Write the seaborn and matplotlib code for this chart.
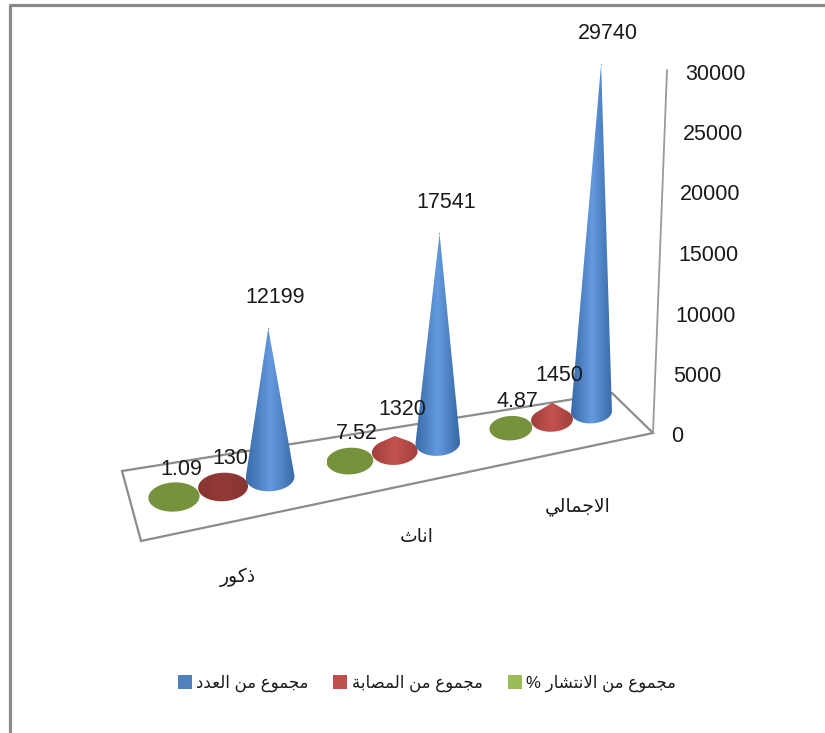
import matplotlib
matplotlib.use("Agg")
import matplotlib.pyplot as plt
import numpy as np
import pandas as pd
import seaborn as sns
from matplotlib.colors import LinearSegmentedColormap
from matplotlib.patches import PathPatch, Polygon
from matplotlib.path import Path

categories = ["ذكور", "اناث", "الاجمالي"]
series_names = ["مجموع من الانتشار %", "مجموع من المصابة", "مجموع من العدد"]
prevalence = [1.09, 7.52, 4.87]
infected = [130, 1320, 1450]
counts = [12199, 17541, 29740]
y_ticks = [0, 5000, 10000, 15000, 20000, 25000, 30000]

# presentation forms: isolated, final, initial, medial
FORMS = {
    "ا": (0xFE8D, 0xFE8E), "ب": (0xFE8F, 0xFE90, 0xFE91, 0xFE92),
    "ة": (0xFE93, 0xFE94), "ت": (0xFE95, 0xFE96, 0xFE97, 0xFE98),
    "ث": (0xFE99, 0xFE9A, 0xFE9B, 0xFE9C), "ج": (0xFE9D, 0xFE9E, 0xFE9F, 0xFEA0),
    "د": (0xFEA9, 0xFEAA), "ذ": (0xFEAB, 0xFEAC), "ر": (0xFEAD, 0xFEAE),
    "ش": (0xFEB5, 0xFEB6, 0xFEB7, 0xFEB8), "ص": (0xFEB9, 0xFEBA, 0xFEBB, 0xFEBC),
    "ع": (0xFEC9, 0xFECA, 0xFECB, 0xFECC), "ك": (0xFED9, 0xFEDA, 0xFEDB, 0xFEDC),
    "ل": (0xFEDD, 0xFEDE, 0xFEDF, 0xFEE0), "م": (0xFEE1, 0xFEE2, 0xFEE3, 0xFEE4),
    "ن": (0xFEE5, 0xFEE6, 0xFEE7, 0xFEE8), "و": (0xFEED, 0xFEEE),
    "ي": (0xFEF1, 0xFEF2, 0xFEF3, 0xFEF4),
}


def shape(text):
    # matplotlib has no arabic shaping, so join the letters and flip to visual order
    out = []
    joined = False
    i = 0
    while i < len(text):
        ch = text[i]
        if ch not in FORMS:
            out.append(ch)
            joined = False
            i += 1
            continue
        if ch == "ل" and text[i + 1 : i + 2] == "ا":
            out.append(chr(0xFEFC if joined else 0xFEFB))
            joined = False
            i += 2
            continue
        forms = FORMS[ch]
        next_letter = text[i + 1 : i + 2] in FORMS
        if len(forms) == 4 and next_letter:
            out.append(chr(forms[3] if joined else forms[2]))
            joined = True
        else:
            out.append(chr(forms[1] if joined else forms[0]))
            joined = False
        i += 1
    return "".join(reversed(out))


sns.set_theme(style="white")
plt.rcParams["font.family"] = ["Liberation Sans", "DejaVu Sans"]
TEXT = "#1a1a1a"

floor_corners = [(141, 541), (653, 433), (612, 393), (122, 471)]


def floor(u):
    # centre line of the floor, with the perspective squeeze along the categories
    x = (132.1 + 194.3 * u) / (1 + 0.0471 * u)
    return x, 497 - 0.2043 * (x - 174)


def lift(x, y, u, value):
    # vertical lines lean away from x=370, and shrink a little towards the back
    height = value * (0.01245 - 0.00028 * u)
    return x + (x - 370) * 1.25e-4 * height, y - height


def cone_path(cx, cy, a, b, tip_x, tip_y, tilt):
    c, s = np.cos(tilt), np.sin(tilt)
    dx, dy = tip_x - cx, tip_y - cy
    qx, qy = (dx * c + dy * s) / a, (-dx * s + dy * c) / b
    dist = np.hypot(qx, qy)
    if dist > 1:
        phi = np.arctan2(qy, qx)
        delta = np.arccos(1 / dist)
        t = np.linspace(phi + delta, phi - delta + 2 * np.pi, 60)
    else:
        t = np.linspace(0, 2 * np.pi, 90)
    ex, ey = a * np.cos(t), b * np.sin(t)
    pts = np.column_stack([cx + ex * c - ey * s, cy + ex * s + ey * c])
    if dist > 1:
        pts = np.vstack([[tip_x, tip_y], pts])
    return Path(np.vstack([pts, pts[0]]), closed=True)


def gradient(colors):
    return LinearSegmentedColormap.from_list("shade", colors)


fig = plt.figure(figsize=(8.25, 7.33), dpi=100)
ax = fig.add_axes([0, 0, 1, 1])
ax.set_xlim(0, 825)
ax.set_ylim(733, 0)
ax.axis("off")

# outer chart border
ax.plot([9.5, 9.5, 825], [733, 5, 5], color="#8a8a8a", lw=2.3, solid_capstyle="butt")

ax.add_patch(Polygon(floor_corners, closed=True, fill=False, edgecolor="#8c8c8c", lw=1.6))
wall_bottom = floor_corners[1]
wall_x = [wall_bottom[0] + v / 30000 * 14 for v in y_ticks]
wall_y = [wall_bottom[1] - v / 30000 * 363 for v in y_ticks]
ax.plot(wall_x, wall_y, color="#9a9a9a", lw=1.3)
for v, x, y in zip(y_ticks, wall_x, wall_y):
    ax.text(x + 18, y + 4, str(v), ha="left", va="center", fontsize=15.5, color=TEXT)

series_values = [prevalence, infected, counts]
series_offset = [0.225, 0.495, 0.76]
shades = [
    ["#76923c", "#76923c"],
    ["#a13f3c", "#c4524f", "#a13f3c"],
    ["#386aa6", "#649adf", "#386aa6"],
]
dark_red = ["#883532", "#933a37", "#883532"]
rows_df = []
for s_i, (name, values) in enumerate(zip(series_names, series_values)):
    for c_i, value in enumerate(values):
        u = c_i + series_offset[s_i]
        cx, cy = floor(u)
        a = floor(u + 0.14)[0] - cx
        b = a * 0.57
        tip_x, tip_y = lift(cx, cy, u, value)
        rows_df.append({"series": shape(name), "x": tip_x, "y": tip_y})
        path = cone_path(cx, cy, a, b, tip_x, tip_y, np.radians(-3))
        colors = dark_red if s_i == 1 and value < 500 else shades[s_i]
        img = ax.imshow(
            np.linspace(0, 1, 64).reshape(1, -1),
            cmap=gradient(colors),
            extent=[cx - a, cx + a, cy + b + 2, min(tip_y, cy - b) - 2],
            aspect="auto",
            zorder=3 + c_i + 0.1 * s_i,
        )
        img.set_clip_path(PathPatch(path, transform=ax.transData))
        lift_y = -31 if s_i == 2 else -27
        ax.text(tip_x + 7, tip_y + lift_y, str(value), ha="center", va="center",
                fontsize=15.5, color=TEXT, zorder=10)

ax.set_xlim(0, 825)
ax.set_ylim(733, 0)

# hidden points only feed the seaborn legend
points = pd.DataFrame(rows_df)
legend_order = [shape(n) for n in reversed(series_names)]
sns.scatterplot(
    data=points, x="x", y="y", hue="series", hue_order=legend_order,
    palette=["#4f81bd", "#c0504d", "#9bbb59"], marker="s", s=0.5, linewidth=0,
    alpha=1, zorder=0, ax=ax,
)
ax.set_xlabel("")
ax.set_ylabel("")
sns.move_legend(
    ax, loc="center", bbox_to_anchor=(427 / 825, 1 - 683 / 733), ncol=3, frameon=False,
    title=None, fontsize=12, columnspacing=1.55, handletextpad=0.3, handlelength=0.75,
)
for handle in ax.get_legend().legend_handles:
    handle.set_markersize(10)
for label in ax.get_legend().get_texts():
    label.set_color(TEXT)

for name, (x, y) in zip(categories, [(238, 577), (417, 537), (578, 507)]):
    ax.text(x, y, shape(name), ha="center", va="center", fontsize=13.5, color=TEXT)

fig.savefig("out.png", dpi=100)
